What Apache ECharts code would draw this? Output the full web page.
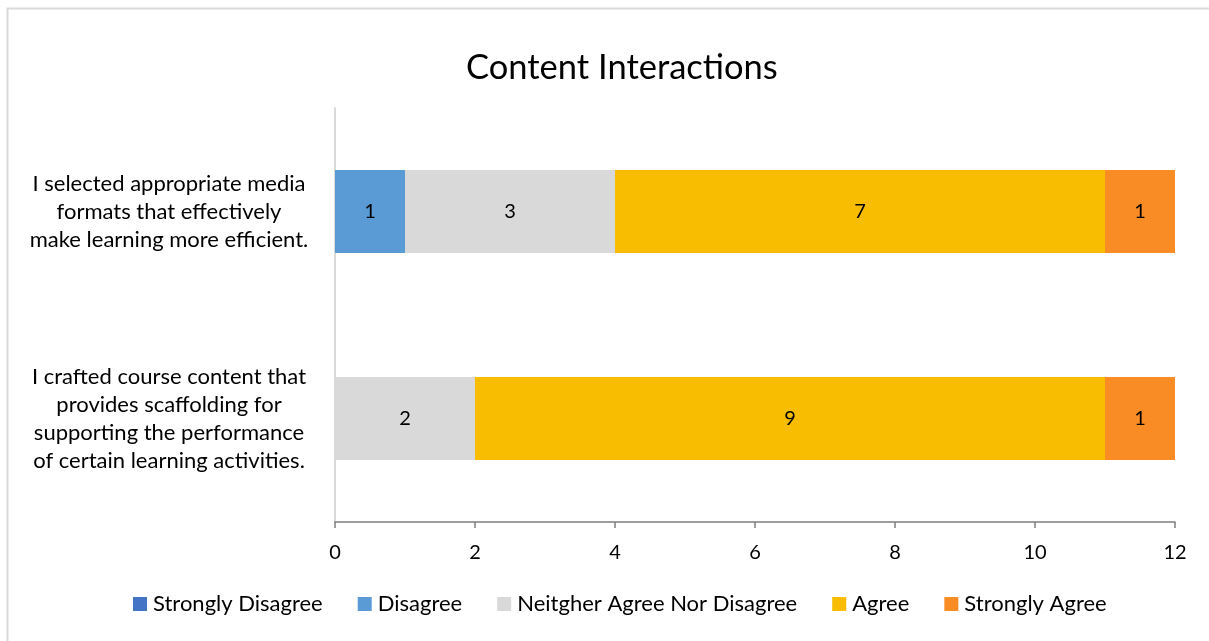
<!DOCTYPE html>
<html>
<head>
<meta charset="utf-8">
<script src="https://cdn.jsdelivr.net/npm/echarts@6/dist/echarts.min.js"></script>
<style>
html,body{margin:0;padding:0;background:#fff;}
#chart{width:1209px;height:641px;}
</style>
</head>
<body>
<div id="chart"></div>
<script>
const categories = [
  "I selected appropriate media\nformats that effectively\nmake learning more efficient.",
  "I crafted course content that\nprovides scaffolding for\nsupporting the performance\nof certain learning activities."
];
const seriesNames = ["Strongly Disagree", "Disagree", "Neitgher Agree Nor Disagree", "Agree", "Strongly Agree"];
const stronglyDisagree = [0, 0];
const disagree = [1, 0];
const neither = [3, 2];
const agree = [7, 9];
const stronglyAgree = [1, 1];
const xTicks = [0, 2, 4, 6, 8, 10, 12];

const colors = ["#4472C4", "#5B9BD5", "#D9D9D9", "#F8BC00", "#F98C25"];
const values = [stronglyDisagree, disagree, neither, agree, stronglyAgree];
const FONT = "Lato, 'Open Sans', sans-serif";

const chart = echarts.init(document.getElementById('chart'));
chart.setOption({
  animation: false,
  textStyle: {fontFamily: FONT},
  title: {
    text: "Content Interactions",
    left: 461, top: 45,
    textStyle: {fontFamily: FONT, fontSize: 34.5, fontWeight: 'normal', color: '#000'}
  },
  graphic: [{
    type: 'rect', shape: {x: 7.5, y: 8.5, width: 1300, height: 700},
    style: {fill: 'none', stroke: '#D9D9D9', lineWidth: 2}, silent: true, z: -1
  }],
  legend: {
    data: seriesNames,
    bottom: 21, left: 128,
    itemWidth: 14, itemHeight: 14, itemGap: 35,
    icon: 'rect',
    textStyle: {fontFamily: FONT, fontSize: 22, color: '#000', padding: [0,0,0,1]}
  },
  grid: {left: 335, right: 34, top: 108, bottom: 119, containLabel: false},
  xAxis: {
    type: 'value', min: 0, max: 12, interval: 2,
    axisLine: {show: true, lineStyle: {color: '#7F7F7F', width: 1.5}},
    axisTick: {show: true, length: 6, lineStyle: {color: '#7F7F7F', width: 1.5}},
    splitLine: {show: false},
    axisLabel: {fontFamily: FONT, fontSize: 20, color: '#000', margin: 21,
      formatter: v => xTicks.includes(v) ? String(v) : ''}
  },
  yAxis: {
    type: 'category', data: categories, inverse: true,
    axisLine: {show: true, lineStyle: {color: '#D9D9D9', width: 2}},
    axisTick: {show: false},
    axisLabel: {fontFamily: FONT, fontSize: 22, color: '#000', align: 'center',
      margin: 166, lineHeight: 28}
  },
  series: seriesNames.map((name, i) => ({
    name: name, type: 'bar', stack: 'total', barWidth: 83,
    itemStyle: {color: colors[i]},
    label: {show: true, position: 'inside', fontFamily: FONT, fontSize: 20, color: '#000',
      formatter: p => p.value > 0 ? String(p.value) : ''},
    data: values[i].map(v => v > 0 ? v : null)
  }))
});
</script>
</body>
</html>
